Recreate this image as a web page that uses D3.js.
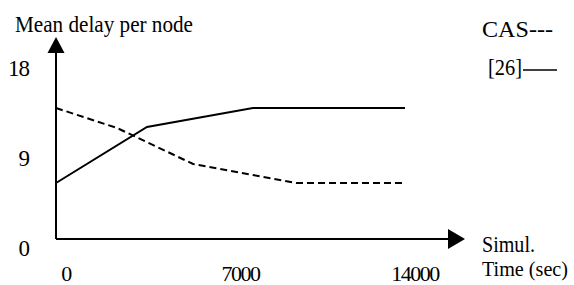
<!DOCTYPE html>
<html>
<head>
<meta charset="utf-8">
<script src="https://cdn.jsdelivr.net/npm/d3@7"></script>
<style>
  body { margin: 0; background: #fff; }
</style>
</head>
<body>
<div id="chart"></div>
<script>
// simulation time (sec) and mean delay per node
const casTime = [0, 2450, 5500, 9650, 14000];
const casDelay = [13.1, 11.1, 7.5, 5.6, 5.6];
const refTime = [0, 3650, 7900, 14000];
const refDelay = [5.6, 11.2, 13.1, 13.1];
const xTicks = [0, 7000, 14000];
const yTicks = [0, 9, 18];

const width = 574, height = 285;
const serif = "'Liberation Serif', 'Times New Roman', 'DejaVu Serif', serif";

const svg = d3.select('#chart')
  .append('svg')
    .attr('width', width)
    .attr('height', height)
    .style('font-family', serif);

const x = d3.scaleLinear().domain([0, 14000]).range([56, 405]);
const y = d3.scaleLinear().domain([0, 18]).range([239, 59]);

// axes with arrow heads
svg.append('line')
  .attr('x1', x(0)).attr('y1', y(0))
  .attr('x2', x(0)).attr('y2', 52)
  .attr('stroke', '#000').attr('stroke-width', 2);
svg.append('path')
  .attr('d', 'M' + x(0) + ',37 L' + (x(0) + 8.5) + ',53 L' + (x(0) - 8.5) + ',53 Z')
  .attr('fill', '#000');

svg.append('line')
  .attr('x1', x(0)).attr('y1', y(0))
  .attr('x2', 449).attr('y2', y(0))
  .attr('stroke', '#000').attr('stroke-width', 2);
svg.append('path')
  .attr('d', 'M465,' + y(0) + ' L448,' + (y(0) - 10) + ' L448,' + (y(0) + 10) + ' Z')
  .attr('fill', '#000');

// series
const line = d3.line().x(d => x(d[0])).y(d => y(d[1]));

svg.append('path')
  .datum(d3.zip(refTime, refDelay))
  .attr('d', line)
  .attr('fill', 'none')
  .attr('stroke', '#000')
  .attr('stroke-width', 2);

svg.append('path')
  .datum(d3.zip(casTime, casDelay))
  .attr('d', line)
  .attr('fill', 'none')
  .attr('stroke', '#000')
  .attr('stroke-width', 2)
  .attr('stroke-dasharray', '7,4');

// tick labels
svg.selectAll('.xlab')
  .data(xTicks)
  .enter()
  .append('text')
    .attr('class', 'xlab')
    .attr('x', d => x(d) + 10)
    .attr('y', 281)
    .attr('text-anchor', 'middle')
    .attr('font-size', 22)
    .attr('letter-spacing', -1.5)
    .text(d => d);

svg.selectAll('.ylab')
  .data(yTicks)
  .enter()
  .append('text')
    .attr('class', 'ylab')
    .attr('x', 29)
    .attr('y', d => y(d) + 17)
    .attr('text-anchor', 'end')
    .attr('font-size', 23)
    .attr('letter-spacing', -1)
    .text(d => d);

// titles
const label = (txt, x0, y0, len, fs) => svg.append('text')
  .attr('x', x0)
  .attr('y', y0)
  .attr('font-size', fs || 24)
  .attr('textLength', len)
  .attr('lengthAdjust', 'spacingAndGlyphs')
  .text(txt);

label('Mean delay per node', 15, 32, 178);
label('Simul.', 482, 252, 53);
label('Time (sec)', 482, 276, 86, 21);

// legend
label('CAS---', 482, 37, 71, 23);
label('[26]', 488, 75, 34, 23);
svg.append('line')
  .attr('x1', 523).attr('x2', 557)
  .attr('y1', 70).attr('y2', 70)
  .attr('stroke', '#000').attr('stroke-width', 1.5);
</script>
</body>
</html>
